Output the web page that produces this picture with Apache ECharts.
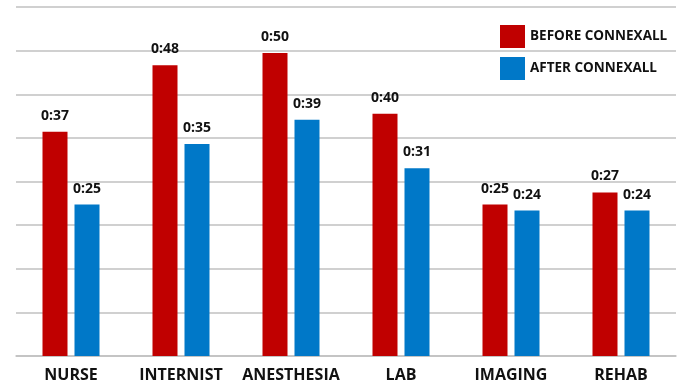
<!DOCTYPE html>
<html>
<head>
<meta charset="utf-8">
<script src="https://cdn.jsdelivr.net/npm/echarts@6/dist/echarts.min.js"></script>
<style>
  html, body { margin: 0; padding: 0; background: #fff; }
  #main { width: 683px; height: 383px; }
</style>
</head>
<body>
<div id="main"></div>
<script>
// 数据（秒）
const categories = ['NURSE', 'INTERNIST', 'ANESTHESIA', 'LAB', 'IMAGING', 'REHAB'];
const beforeValues = [37, 48, 50, 40, 25, 27];
const afterValues = [25, 35, 39, 31, 24, 24];
const seriesNames = ['BEFORE CONNEXALL', 'AFTER CONNEXALL'];

const fontFamily = '"Open Sans", "Noto Sans", sans-serif';
const fmt = p => '0:' + String(p.value).padStart(2, '0');

const labelStyle = {
    show: true,
    position: 'top',
    distance: 9,
    formatter: fmt,
    color: '#111',
    fontFamily: fontFamily,
    fontWeight: 700,
    fontSize: 14,
};

const option = {
    animation: false,
    grid: { left: 16, right: 7, top: 7, bottom: 27 },
    legend: {
        orient: 'vertical',
        left: 495,
        top: 20,
        itemWidth: 25,
        itemHeight: 23,
        itemGap: 9,
        icon: 'rect',
        textStyle: {
            color: '#111',
            fontFamily: fontFamily,
            fontWeight: 700,
            fontSize: 13.5,
        },
        data: seriesNames,
    },
    xAxis: {
        type: 'category',
        data: categories,
        axisLine: { lineStyle: { color: '#c0c0c0', width: 1.5 } },
        axisTick: { show: false },
        axisLabel: {
            interval: 0,
            color: '#111',
            fontFamily: fontFamily,
            fontWeight: 700,
            fontSize: 16,
            margin: 11,
        },
    },
    yAxis: {
        type: 'value',
        min: 0,
        max: 57.6,
        interval: 7.2,
        axisLabel: { show: false },
        axisLine: { show: false },
        axisTick: { show: false },
        splitLine: { lineStyle: { color: '#c0c0c0', width: 1.5 } },
    },
    series: [
        {
            name: seriesNames[0],
            type: 'bar',
            data: beforeValues,
            barWidth: 25,
            barGap: '28%',
            itemStyle: { color: '#c00000' },
            label: labelStyle,
        },
        {
            name: seriesNames[1],
            type: 'bar',
            data: afterValues,
            barWidth: 25,
            itemStyle: { color: '#0078c8' },
            label: labelStyle,
        },
    ],
};

const myChart = echarts.init(document.getElementById('main'));
myChart.setOption(option);
</script>
</body>
</html>
